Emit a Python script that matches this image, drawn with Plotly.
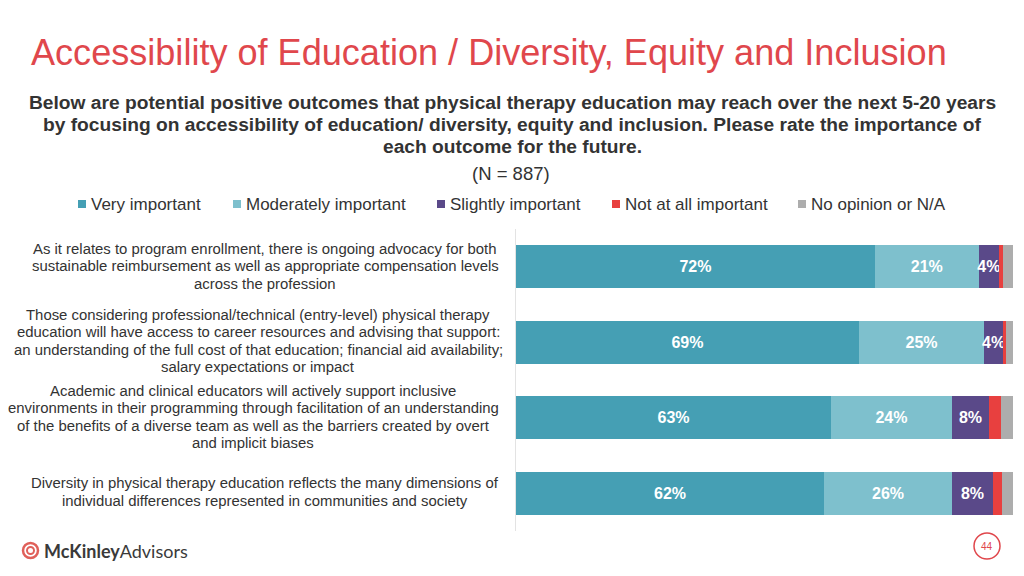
import plotly.graph_objects as go

W, H = 1024, 576

categories = [
    "As it relates to program enrollment, there is ongoing advocacy for both<br>sustainable reimbursement as well as appropriate compensation levels<br>across the profession",
    "Those considering professional/technical (entry-level) physical therapy<br>education will have access to career resources and advising that support:<br>an understanding of the full cost of that education; financial aid availability;<br>salary expectations or impact",
    "Academic and clinical educators will actively support inclusive<br>environments in their programming through facilitation of an understanding<br>of the benefits of a diverse team as well as the barriers created by overt<br>and implicit biases",
    "Diversity in physical therapy education reflects the many dimensions of<br>individual differences represented in communities and society",
]
cat_ids = ["c1", "c2", "c3", "c4"]

series_names = ["Very important", "Moderately important", "Slightly important",
                "Not at all important", "No opinion or N/A"]
very_important = [72.2, 69.0, 63.4, 62.0]
moderately_important = [20.9, 25.2, 24.3, 25.7]
slightly_important = [4.1, 3.8, 7.5, 8.3]
not_at_all_important = [0.8, 0.6, 2.4, 1.8]
no_opinion = [2.0, 1.4, 2.4, 2.2]
show_labels = [True, True, True, False, False]

colors = ["#459FB4", "#7EC0CD", "#5A4989", "#E8403F", "#ADADAD"]

series = [very_important, moderately_important, slightly_important,
          not_at_all_important, no_opinion]

title_text = "Accessibility of Education / Diversity, Equity and Inclusion"
subtitle_lines = [
    "Below are potential positive outcomes that physical therapy education may reach over the next 5-20 years",
    "by focusing on accessibility of education/ diversity, equity and inclusion. Please rate the importance of",
    "each outcome for the future.",
]
n_text = "(N = 887)"


def px(x):
    return x / W


def py(y):
    return 1 - y / H


fig = go.Figure()
for name, vals, col, lab in zip(series_names, series, colors, show_labels):
    fig.add_trace(go.Bar(
        y=cat_ids, x=vals, name=name, orientation="h",
        marker=dict(color=col, line=dict(width=0)),
        text=[f"{round(v)}%" for v in vals] if lab else None,
        textposition="inside" if lab else "none",
        insidetextanchor="middle",
        constraintext="none",
        textangle=0,
        textfont=dict(color="white", size=16, family="Liberation Sans"),
        texttemplate="<b>%{text}</b>" if lab else None,
        showlegend=False,
        hoverinfo="skip",
    ))

fig.update_layout(
    width=W, height=H, autosize=False,
    margin=dict(l=0, r=0, t=0, b=0),
    paper_bgcolor="white", plot_bgcolor="white",
    barmode="stack", bargap=0.43,
    font=dict(family="Liberation Sans", color="#333333"),
    xaxis=dict(domain=[px(516), px(1013)], range=[0, 100], showgrid=False,
               zeroline=False, showticklabels=False, fixedrange=True),
    yaxis=dict(domain=[py(531), py(229)], categoryorder="array",
               categoryarray=cat_ids[::-1], showticklabels=False,
               showline=True, linecolor="#E3E3E3", linewidth=1,
               showgrid=False, zeroline=False, fixedrange=True),
)

ann = []
# Title
ann.append(dict(x=px(29), y=py(52), xref="paper", yref="paper", xanchor="left",
                yanchor="middle", showarrow=False, text=title_text,
                font=dict(size=36.1, color="#E0474C", family="Liberation Sans")))
# Subtitle
for line, ly in zip(subtitle_lines, [102, 125, 147]):
    ann.append(dict(x=px(512), y=py(ly), xref="paper", yref="paper", xanchor="center",
                    yanchor="middle", showarrow=False, text=f"<b>{line}</b>",
                    font=dict(size=19.2, color="#333333", family="Liberation Sans")))
ann.append(dict(x=px(511), y=py(173), xref="paper", yref="paper", xanchor="center",
                yanchor="middle", showarrow=False, text=n_text,
                font=dict(size=18.5, color="#333333", family="Liberation Sans")))

# Legend (manual)
leg_x = [82, 237, 441, 616, 802]
shapes = []
for name, col, lx in zip(series_names, colors, leg_x):
    shapes.append(dict(type="rect", xref="paper", yref="paper",
                       x0=px(lx - 4), x1=px(lx + 4), y0=py(208), y1=py(200),
                       fillcolor=col, line=dict(width=0)))
    ann.append(dict(x=px(lx + 7), y=py(204), xref="paper", yref="paper",
                    xanchor="left", yanchor="middle", showarrow=False, text=name,
                    font=dict(size=17, color="#333333", family="Liberation Sans")))

# Category labels (one annotation per line for tight spacing)
cat_centers_y = [266, 341, 417, 492]
cat_centers_x = [265, 258, 253, 265]
line_h = 17.5
for cat, cx, cy in zip(categories, cat_centers_x, cat_centers_y):
    lines = cat.split("<br>")
    n = len(lines)
    for i, line in enumerate(lines):
        ly = cy + (i - (n - 1) / 2) * line_h
        ann.append(dict(x=px(cx), y=py(ly), xref="paper", yref="paper",
                        xanchor="center", yanchor="middle", showarrow=False,
                        text=line,
                        font=dict(size=14.9, color="#333333", family="Liberation Sans")))

# Logo
shapes.append(dict(type="circle", xref="paper", yref="paper",
                   x0=px(23), x1=px(38), y0=py(558), y1=py(543),
                   line=dict(color="#E0605A", width=2.5)))
shapes.append(dict(type="circle", xref="paper", yref="paper",
                   x0=px(27), x1=px(34), y0=py(554), y1=py(547),
                   line=dict(color="#E0605A", width=2)))
ann.append(dict(x=px(42), y=py(551), xref="paper", yref="paper", xanchor="left",
                yanchor="middle", showarrow=False,
                text="<b>McKinley</b>Advisors",
                font=dict(size=18, color="#3A3A3A", family="Lato")))

# Page number
shapes.append(dict(type="circle", xref="paper", yref="paper",
                   x0=px(974), x1=px(1000), y0=py(559), y1=py(533),
                   line=dict(color="#E0474C", width=1.5)))
ann.append(dict(x=px(987), y=py(546), xref="paper", yref="paper", xanchor="center",
                yanchor="middle", showarrow=False, text="44",
                font=dict(size=10, color="#E0474C", family="Liberation Sans")))

fig.update_layout(annotations=ann, shapes=shapes)
fig.write_html("out.html", config={"displayModeBar": False},
               post_script="document.body.style.margin='0px';")
